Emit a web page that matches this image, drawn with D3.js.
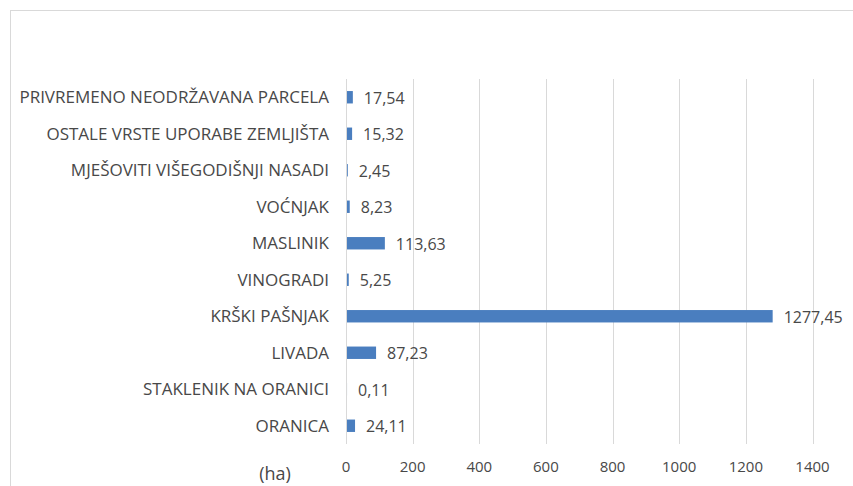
<!DOCTYPE html>
<html>
<head>
    <meta charset="utf-8">
    <script src="https://cdn.jsdelivr.net/npm/d3@7"></script>
    <style>
        body { margin: 0; background: #fff; }
        text { font-family: "Open Sans", "Noto Sans", sans-serif; fill: #484848; }
    </style>
</head>
<body>
<svg id="chart" width="853" height="486"></svg>
<script>
    // categories top to bottom, values in hectares
    const categories = [
        'PRIVREMENO NEODRŽAVANA PARCELA',
        'OSTALE VRSTE UPORABE ZEMLJIŠTA',
        'MJEŠOVITI VIŠEGODIŠNJI NASADI',
        'VOĆNJAK',
        'MASLINIK',
        'VINOGRADI',
        'KRŠKI PAŠNJAK',
        'LIVADA',
        'STAKLENIK NA ORANICI',
        'ORANICA'
    ];
    const values = [17.54, 15.32, 2.45, 8.23, 113.63, 5.25, 1277.45, 87.23, 0.11, 24.11];
    const valueLabels = ['17,54', '15,32', '2,45', '8,23', '113,63', '5,25', '1277,45', '87,23', '0,11', '24,11'];
    const xTicks = [0, 200, 400, 600, 800, 1000, 1200, 1400];
    const unitLabel = '(ha)';

    const svg = d3.select('#chart');

    // outer frame
    svg.append('rect')
        .attr('x', 10.5).attr('y', 10.5)
        .attr('width', 860).attr('height', 500)
        .attr('fill', 'none').attr('stroke', '#d9d9d9');

    const plot = { left: 346, right: 812.5, top: 79, bottom: 444 };

    const x = d3.scaleLinear().domain([0, 1400]).range([plot.left, plot.right]);
    const y = d3.scaleBand().domain(categories).range([plot.top, plot.bottom]).paddingInner(0.66).paddingOuter(0.33);

    // gridlines
    svg.append('g').selectAll('line')
        .data(xTicks)
        .enter().append('line')
        .attr('x1', d => Math.round(x(d)) + 0.5).attr('x2', d => Math.round(x(d)) + 0.5)
        .attr('y1', plot.top).attr('y2', plot.bottom)
        .attr('stroke', '#d9d9d9').attr('stroke-width', 1);

    // bars
    svg.append('g').selectAll('rect')
        .data(values)
        .enter().append('rect')
        .attr('x', x(0) + 1)
        .attr('y', (d, i) => y(categories[i]))
        .attr('width', d => Math.max(0, x(d) - x(0)))
        .attr('height', y.bandwidth())
        .attr('fill', '#4a7ebf');

    // value labels
    svg.append('g').selectAll('text')
        .data(values)
        .enter().append('text')
        .attr('x', d => x(d) + 12)
        .attr('y', (d, i) => y(categories[i]) + y.bandwidth() / 2 + 1)
        .attr('dy', '0.35em')
        .attr('font-size', 16)
        .text((d, i) => valueLabels[i]);

    // category labels
    svg.append('g').selectAll('text')
        .data(categories)
        .enter().append('text')
        .attr('x', 329)
        .attr('y', d => y(d) + y.bandwidth() / 2)
        .attr('dy', '0.35em')
        .attr('text-anchor', 'end')
        .attr('font-size', 17)
        .attr('fill', '#555')
        .text(d => d);

    // x axis tick labels
    svg.append('g').selectAll('text')
        .data(xTicks)
        .enter().append('text')
        .attr('x', d => x(d))
        .attr('y', 467)
        .attr('dy', '0.35em')
        .attr('text-anchor', 'middle')
        .attr('font-size', 15)
        .attr('fill', '#555')
        .text(d => d);

    svg.append('text')
        .attr('x', 275).attr('y', 474)
        .attr('dy', '0.35em')
        .attr('text-anchor', 'middle')
        .attr('font-size', 18)
        .attr('fill', '#555')
        .text(unitLabel);
</script>
</body>
</html>
